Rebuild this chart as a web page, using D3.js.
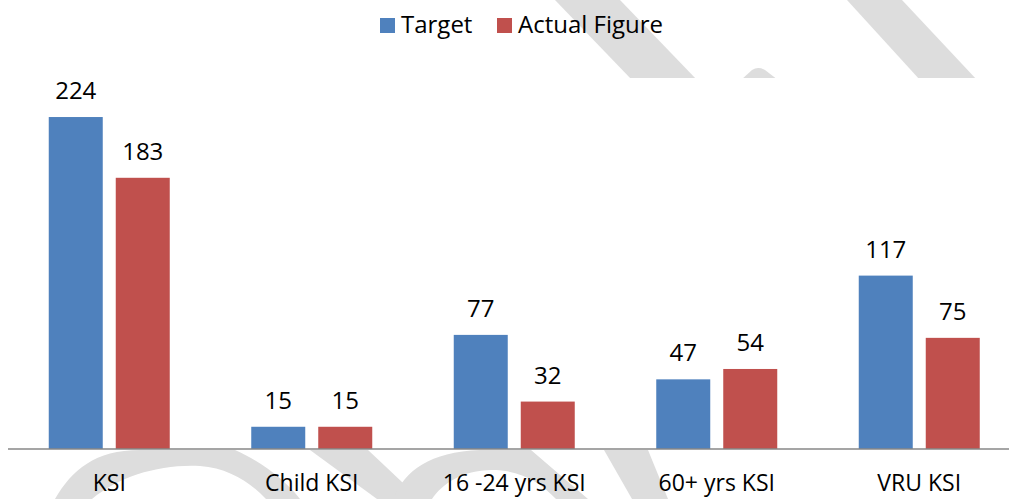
<!DOCTYPE html>
<html>
<head>
<meta charset="utf-8">
<script src="https://cdn.jsdelivr.net/npm/d3@7"></script>
<style>
  html, body { margin: 0; padding: 0; background: #fff; }
  svg { display: block; }
  text { font-family: "Open Sans", "Noto Sans", sans-serif; fill: #000; }
</style>
</head>
<body>
<svg id="chart" width="1009" height="499"></svg>
<script>
const categories = ["KSI", "Child KSI", "16 -24 yrs KSI", "60+ yrs KSI", "VRU KSI"];
const seriesNames = ["Target", "Actual Figure"];
const targetValues = [224, 15, 77, 47, 117];
const actualValues = [183, 15, 32, 54, 75];
const seriesColors = ["#4F81BD", "#C0504D"];

const W = 1009, H = 499;
const FONT = "'Open Sans', 'Noto Sans', sans-serif";
const svg = d3.select("#chart");

// Watermark (decorative background, partly hidden behind plot area)
const wm = svg.append("g").attr("fill", "#dddddd");
[
  "M555,0 L620,0 L697,80 L632,80 Z",
  "M847,0 L902,0 L977,80 L920,80 Z",
  "M741,80 L752,70 Q758,66 765,70 L778,80 Z",
  "M55,499 C72,470 95,450 140,450 L235,450 C262,462 285,480 300,499 L266,499 C250,482 228,468 200,466 C160,464 120,476 92,499 Z",
  "M310,450 L368,450 L420,499 L377,499 Z",
  "M393,499 C405,470 430,452 480,450 L531,450 L588,499 L556,499 C540,482 520,470 492,470 C462,470 442,484 432,499 Z",
  "M604,450 L648,450 L668,499 L632,499 Z"
].forEach(d => wm.append("path").attr("d", d));

// plot area
const plotTop = 78, baseY = 449;
svg.append("rect").attr("x", 0).attr("y", plotTop).attr("width", W).attr("height", baseY - plotTop).attr("fill", "#fff");

const x0 = d3.scaleBand().domain(categories).range([8, 1020.5]).paddingInner(0).paddingOuter(0);
const x1 = d3.scaleBand().domain(seriesNames).range([40.75, 161.75]).paddingInner(13 / 67).paddingOuter(0);
const y = d3.scaleLinear().domain([0, 250]).range([baseY, baseY - 370.5]);

const rows = categories.map((c, i) => ({ cat: c, vals: [targetValues[i], actualValues[i]] }));

const groups = svg.append("g").selectAll("g").data(rows).join("g")
  .attr("transform", d => `translate(${x0(d.cat)},0)`);

groups.selectAll("rect").data(d => d.vals.map((v, j) => ({ s: seriesNames[j], v, j })))
  .join("rect")
  .attr("x", d => x1(d.s))
  .attr("y", d => y(d.v))
  .attr("width", x1.bandwidth())
  .attr("height", d => baseY - y(d.v))
  .attr("fill", d => seriesColors[d.j]);

groups.selectAll("text.val").data(d => d.vals.map((v, j) => ({ s: seriesNames[j], v, j })))
  .join("text").attr("class", "val")
  .attr("x", d => x1(d.s) + x1.bandwidth() / 2)
  .attr("y", d => y(d.v) - 18)
  .attr("text-anchor", "middle")
  .attr("font-size", 24)
  .text(d => d.v);

// axis
const xAxis = d3.axisBottom(x0).tickSize(0).tickPadding(0);
const ax = svg.append("g").attr("transform", `translate(0,${baseY})`).call(xAxis);
ax.select(".domain").attr("stroke", "#878787").attr("stroke-width", 1.5).attr("d", `M8,0H${W}`);
ax.selectAll(".tick text").attr("y", 42).attr("dy", null).attr("font-size", 23)
  .attr("font-family", FONT).attr("fill", "#000");

// legend
const legendX = [380, 497];
const leg = svg.append("g");
seriesNames.forEach((s, i) => {
  leg.append("rect").attr("x", legendX[i]).attr("y", 18).attr("width", 15).attr("height", 15).attr("fill", seriesColors[i]);
  leg.append("text").attr("x", legendX[i] + 21).attr("y", 33).attr("font-size", 24).text(s);
});
</script>
</body>
</html>
